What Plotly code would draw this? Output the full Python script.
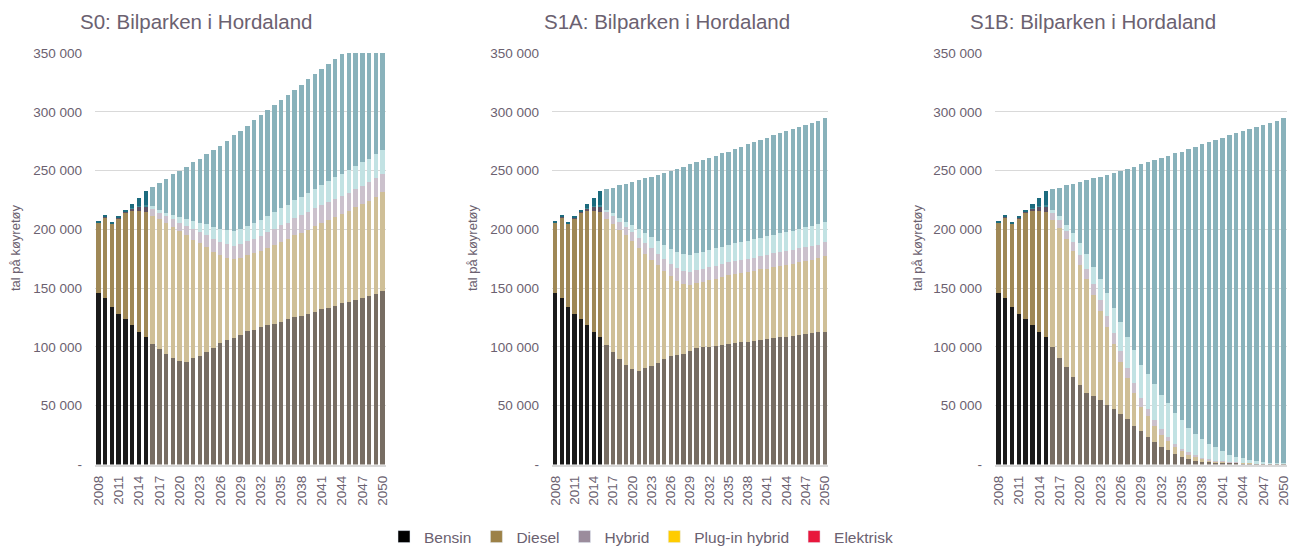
import plotly.graph_objects as go

# ---------------- data ----------------
years = list(range(2008, 2051))
hist_years = years[:8]      # 2008-2015 (registered)
proj_years = years[8:]      # 2016-2050 (projected)
tick_years = list(range(2008, 2051, 3))
y_tick_vals = [0, 50000, 100000, 150000, 200000, 250000, 300000, 350000]
y_tick_text = ["-", "50 000", "100 000", "150 000", "200 000", "250 000", "300 000", "350 000"]

categories = ["Bensin", "Diesel", "Hybrid", "Plug-in hybrid", "Elektrisk"]

# registered fleet 2008-2015 (same in all scenarios)
hist_bensin = [146000, 141300, 133900, 127700, 123700, 118600, 113000, 108200]
hist_diesel = [59700, 69200, 70900, 81400, 90500, 96900, 102500, 106500]
hist_hybrid = [500, 500, 500, 600, 700, 2600, 4000, 5100]
hist_plugin = [0, 0, 0, 0, 100, 200, 400, 700]
hist_elektrisk = [800, 1000, 1100, 1500, 1700, 3000, 6500, 12500]

# S0 2016-2050
s0_bensin = [102500, 98300, 94100, 90400, 88100, 87600, 90400, 92600, 95500, 98900, 103100, 105900, 107400, 110200,
             113600, 114700, 117000, 118600, 119800, 121500, 123500, 125400, 126600, 128300, 130000, 131900, 133300,
             135000, 137000, 138400, 139800, 141800, 143500, 145200, 147500]
s0_diesel = [108800, 110200, 111300, 111600, 110200, 107300, 100900, 95800, 89500, 81900, 74900, 70100, 67200, 65800,
             64700, 65000, 64700, 65900, 67200, 67800, 68000, 69500, 70600, 71400, 72800, 73500, 74900, 75800, 76300,
             77100, 79100, 79400, 80500, 82300, 84500]
s0_hybrid = [6200, 5800, 6000, 6500, 7500, 8300, 9000, 9400, 9900, 10600, 11000, 11300, 11600, 11400, 11500, 12200,
             12800, 13200, 13600, 14000, 14300, 14500, 14700, 14900, 15000, 15100, 15200, 15300, 15500, 15700, 15800,
             16000, 16100, 16100, 15300]
s0_plugin = [2000, 2400, 2800, 3500, 4300, 5500, 6800, 8000, 9300, 10500, 11500, 12300, 12800, 12800, 12900, 13100,
             13400, 13800, 14200, 14600, 15000, 15400, 15800, 16200, 16700, 17200, 17700, 18200, 18700, 19100, 19400,
             19700, 20000, 20200, 20400]
s0_elektrisk = [16300, 23100, 28700, 34900, 39600, 44700, 50000, 54200, 59700, 65700, 70800, 75700, 80900, 83600,
                85400, 87600, 89000, 89700, 90600, 91800, 93100, 94000, 95300, 97000, 97900, 98700, 99800, 100700,
                102000, 103700, 104400, 106100, 107400, 108200, 108800]

# S1A 2016-2050
s1a_bensin = [101700, 95500, 89800, 84800, 81400, 79700, 81900, 84200, 86700, 89500, 92400, 93500, 94100, 96600,
              98900, 99700, 100300, 101100, 101700, 102800, 103700, 104000, 104500, 105400, 105900, 106500, 107400,
              108200, 108800, 109300, 110200, 111000, 111600, 112500, 113000]
s1a_diesel = [107300, 109300, 109900, 110100, 108700, 104800, 97500, 90100, 82800, 74900, 67800, 62700, 59300, 56500,
              55600, 55700, 56500, 57100, 57900, 58200, 58200, 59000, 59300, 59300, 60000, 60200, 60700, 60700, 61300,
              61600, 62100, 62200, 62700, 62900, 64100]
s1a_hybrid = [6200, 6500, 6500, 7100, 7600, 8500, 9000, 9900, 9900, 10700, 10700, 11300, 11300, 10700, 10700, 10800,
              10900, 11000, 11000, 11100, 11100, 11200, 11200, 11300, 11300, 11400, 11400, 11500, 11500, 11500, 11600,
              11600, 11700, 11700, 11800]
s1a_plugin = [1400, 2300, 3400, 4200, 5600, 7100, 8500, 9300, 10700, 11300, 12700, 13600, 14100, 14200, 14300, 14400,
              14500, 14700, 14800, 15000, 15100, 15300, 15500, 15600, 15800, 16000, 16100, 16300, 16500, 16600, 16800,
              16900, 17100, 17300, 17500]
s1a_elektrisk = [17600, 22000, 28000, 32500, 37400, 41700, 46600, 51400, 56500, 61900, 66100, 70300, 74600, 77400,
                 77600, 78200, 78500, 78800, 79300, 79000, 80000, 80600, 81800, 82700, 83000, 83900, 84300, 84900,
                 85500, 86300, 86600, 87300, 87600, 88000, 88500]

# S1B 2016-2050
s1b_bensin = [99700, 90900, 83100, 74600, 67200, 60700, 57900, 54500, 50600, 47200, 43200, 38700, 32500, 28200, 23400,
              19000, 15000, 12000, 8800, 6500, 5100, 3400, 2500, 2000, 1700, 1500, 1400, 1300, 1200, 1100, 1000, 900,
              900, 800, 800]
s1b_diesel = [108500, 110200, 108400, 107100, 102300, 96900, 86200, 76000, 66400, 55100, 44400, 34500, 28200, 20700,
              17600, 13500, 10400, 7800, 5900, 4800, 3400, 2800, 2300, 1700, 1100, 800, 500, 400, 300, 200, 100, 100,
              0, 0, 0]
s1b_hybrid = [6000, 6500, 7300, 7900, 8400, 8800, 9200, 9400, 9400, 9300, 9100, 8800, 8300, 7600, 6400, 5200, 4500,
              3800, 3100, 2300, 2000, 1700, 1100, 800, 600, 500, 300, 200, 200, 100, 100, 0, 0, 0, 0]
s1b_plugin = [2500, 4000, 5100, 7600, 10500, 13000, 14700, 17800, 19800, 21800, 24900, 26800, 28000, 28000, 29700,
              30500, 29600, 28300, 26000, 24000, 20600, 18400, 15900, 13300, 11300, 8500, 6300, 4700, 3600, 2400, 1400,
              1000, 700, 500, 400]
s1b_elektrisk = [17500, 24000, 33700, 41500, 52300, 62400, 75500, 87200, 100400, 114900, 128100, 142600, 156400,
                 170900, 180000, 190600, 201200, 210800, 220900, 228500, 237000, 243800, 250500, 256500, 261300,
                 266700, 271400, 275000, 278300, 281500, 284700, 287000, 289100, 291100, 293700]

# ---------------- styles ----------------
hist_colors = ["#1a1a1a", "#9f8856", "#5d5162", "#3f8a94", "#1c6b7e"]
proj_colors = ["#776d63", "#cfbf97", "#cbc1cc", "#c2e2e3", "#89b2bb"]
legend_colors = ["#000000", "#9c8147", "#9b8c9c", "#ffcc00", "#e8173c"]
text_color = "#6b6170"
font_family = "Liberation Sans, Arial, sans-serif"

hist = [hist_bensin, hist_diesel, hist_hybrid, hist_plugin, hist_elektrisk]
scenarios = [
    ("S0: Bilparken i Hordaland", [s0_bensin, s0_diesel, s0_hybrid, s0_plugin, s0_elektrisk]),
    ("S1A: Bilparken i Hordaland", [s1a_bensin, s1a_diesel, s1a_hybrid, s1a_plugin, s1a_elektrisk]),
    ("S1B: Bilparken i Hordaland", [s1b_bensin, s1b_diesel, s1b_hybrid, s1b_plugin, s1b_elektrisk]),
]

# the page body adds an 8 px margin, so the figure starts at (8, 8) of the window
OFF = 8
W, H = 1298 - OFF, 548 - OFF


def px(x):
    return (x - OFF) / W


def py(y):
    return 1 - (y - OFF) / H


x_domains = [(95, 386), (552, 828), (995, 1287)]
y_top, y_bot = 53, 464.5
title_x = [78, 542, 968]
ytitle_x = [15, 472, 917]

fig = go.Figure()
annotations = []
for i, (title, proj) in enumerate(scenarios):
    ax = "" if i == 0 else str(i + 1)
    for k, cat in enumerate(categories):
        fig.add_trace(go.Bar(
            x=years,
            y=hist[k] + proj[k],
            name=cat,
            marker=dict(color=[hist_colors[k]] * len(hist_years) + [proj_colors[k]] * len(proj_years),
                        line=dict(width=0)),
            xaxis="x" + ax, yaxis="y" + ax,
            showlegend=False,
        ))
    x0, x1 = x_domains[i]
    fig.update_layout(**{
        "xaxis" + ax: dict(
            domain=[px(x0), px(x1)], anchor="y" + ax, automargin=False,
            range=[2007.5, 2050.5], tickmode="array", tickvals=tick_years,
            ticktext=[str(t) for t in tick_years], tickangle=-90,
            tickfont=dict(size=13.5, color=text_color, family=font_family),
            showgrid=False, showline=True, linecolor="#d9d9d9", linewidth=1.5,
            ticks="", ticklabelstandoff=4, layer="above traces", zeroline=False,
        ),
        "yaxis" + ax: dict(
            domain=[py(y_bot), py(y_top)], anchor="x" + ax, automargin=False,
            range=[0, 350000], tickmode="array", tickvals=y_tick_vals, ticktext=y_tick_text,
            tickfont=dict(size=13.5, color=text_color, family=font_family),
            showgrid=True, gridcolor="rgba(0,0,0,0.15)", gridwidth=1.2,
            zeroline=False, showline=False, ticks="", ticklabelstandoff=12,
            layer="above traces",
        ),
    })
    annotations.append(dict(
        text=title, x=px(title_x[i]), y=py(22), xref="paper", yref="paper",
        xanchor="left", yanchor="middle", showarrow=False,
        font=dict(size=20.5, color=text_color, family=font_family),
    ))
    annotations.append(dict(
        text="tal på køyretøy", x=px(ytitle_x[i]), y=py(248), xref="paper", yref="paper",
        xanchor="center", yanchor="middle", textangle=-90, showarrow=False,
        font=dict(size=13, color=text_color, family=font_family),
    ))

# legend entries (colours as in the reference legend)
for k, cat in enumerate(categories):
    fig.add_trace(go.Bar(x=[None], y=[None], name=cat, marker_color=legend_colors[k],
                         showlegend=True, xaxis="x", yaxis="y"))

fig.update_layout(
    width=W, height=H,
    margin=dict(l=0, r=0, t=0, b=0, autoexpand=False),
    barmode="stack", bargap=0.34,
    plot_bgcolor="white", paper_bgcolor="white",
    font=dict(family=font_family, color=text_color),
    annotations=annotations,
    showlegend=True,
    legend=dict(orientation="h", x=px(641), y=py(537), xanchor="center", yanchor="middle",
                traceorder="normal",
                font=dict(size=15.5, color=text_color, family=font_family),
                itemwidth=30, tracegroupgap=0, bgcolor="rgba(0,0,0,0)"),
)

fig.write_html("out.html")
